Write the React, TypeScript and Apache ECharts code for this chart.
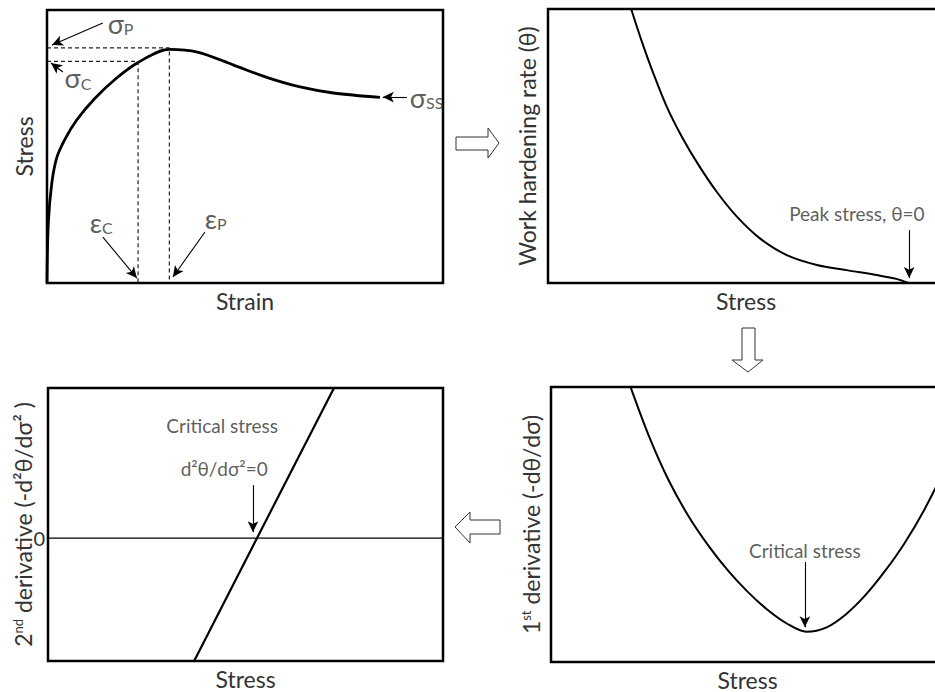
import React, { useEffect, useRef } from "react";
import * as echarts from "echarts";

const FONT = 'Lato, "Noto Sans", "DejaVu Sans", sans-serif';
const TXT = "#333";

// Panel 1: stress–strain curve (schematic units 0..100)
const strain = [0, 0.33, 1.2, 2.45, 4.55, 7.5, 12, 17.5, 23, 30.9, 38, 47, 55.5, 63.9, 72.3, 84.1];
const stress = [0, 21.9, 36.4, 45.8, 52.7, 59.7, 67.5, 75, 80.8, 85.6, 84.6, 79.9, 75.3, 71.8, 69.6, 68];
const peakPoint = [30.9, 86.1];
const criticalPoint = [23, 81.2];

// Panel 2: work hardening rate vs stress
const thetaStress = [21.0, 23.7, 26.6, 30.0, 33.8, 38.0, 42.6, 47.7, 53.5, 60.3, 67.9, 75.4, 83.0, 88.0, 91.0];
const theta = [100, 88.1, 76.5, 64.3, 53.4, 43.1, 33.3, 24.2, 16.3, 10.2, 6.6, 4.7, 2.9, 1.5, 0];

// Panel 4: first derivative vs stress
const d1Stress = [20.3, 25, 30, 35, 40, 45, 50, 55, 60, 65, 70, 75, 80, 85, 90, 95, 100];
const d1 = [99.8, 81.9, 65.9, 53.0, 42.4, 33.3, 25.6, 19.1, 14.0, 11.0, 12.5, 17.3, 24.3, 33.1, 43.3, 55.4, 69.5];

// Panel 3: second derivative vs stress
const d2Stress = [37, 52.9, 72.4];
const d2 = [-45, 0, 55];
const zeroLineX = [0, 100];

// Annotation anchors (data units of each panel)
const p1Labels = [
  { text: "{g|σ}{s|P}", at: [15.2, 95.2] },
  { text: "{g|σ}{s|C}", at: [4.3, 75.1] },
  { text: "{g|σ}{s|SS}", at: [91.5, 68.1] },
  { text: "{g|ε}{s|C}", at: [10.7, 22.3] },
  { text: "{g|ε}{s|P}", at: [39.7, 23.8] },
];
const p1Arrows = [
  [[14.1, 95.2], [1.26, 87.2]],
  [[4.0, 77.3], [1.0, 80.6]],
  [[90.9, 68.1], [84.8, 68.1]],
  [[14.1, 16.8], [22.7, 1.8]],
  [[39.9, 18.7], [31.8, 2.2]],
];
const p2Labels = [{ text: "Peak stress, θ=0", at: [78, 25.5] }];
const p2Arrows = [[[91.2, 19.3], [91.2, 1.8]]];
const p3Labels = [
  { text: "Critical stress", at: [44.1, 41.4] },
  { text: "d²θ/dσ²=0", at: [44.6, 25.6] },
];
const p3Arrows = [[[51.9, 19.4], [51.9, 2.2]]];
const p4Labels = [{ text: "Critical stress", at: [64.6, 40.7] }];
const p4Arrows = [[[64.6, 36.4], [64.6, 12.6]]];

const pairs = (xs: number[], ys: number[]) => xs.map((x, i) => [x, ys[i]]);

const arrowMark = (arrows: number[][][]) => ({
  silent: true,
  symbol: ["none", "arrow"],
  symbolSize: [8, 11],
  label: { show: false },
  lineStyle: { color: "#000", width: 1.1, type: "solid" },
  emphasis: { disabled: true },
  data: arrows.map(([a, b]) => [{ coord: a }, { coord: b }]),
});

const labelSeries = (idx: number, labels: { text: string; at: number[] }[], pos: string) => ({
  type: "scatter",
  xAxisIndex: idx,
  yAxisIndex: idx,
  silent: true,
  symbolSize: 1,
  itemStyle: { color: "rgba(0,0,0,0)" },
  data: labels.map((l) => ({ value: l.at, name: l.text })),
  label: {
    show: true,
    position: pos,
    distance: 0,
    formatter: (p: any) => p.name,
    color: TXT,
    fontFamily: FONT,
    fontSize: 19,
    rich: {
      g: { fontSize: 27, color: TXT, fontFamily: FONT },
      s: { fontSize: 16, color: TXT, fontFamily: FONT, verticalAlign: "bottom" },
    },
  },
});

const nameStyle = {
  fontSize: 23,
  color: TXT,
  fontFamily: FONT,
  rich: {
    sup: { fontSize: 13, color: TXT, fontFamily: FONT, verticalAlign: "top" },
  },
};

const gridBox = (left: number, top: number, width: number, height: number) => ({
  left,
  top,
  width,
  height,
  show: true,
  borderColor: "#000",
  borderWidth: 2.5,
  backgroundColor: "transparent",
  containLabel: false,
  outerBoundsMode: "none",
});

const xAx = (idx: number, name: string) => ({
  type: "value",
  gridIndex: idx,
  min: 0,
  max: 100,
  name,
  nameLocation: "middle",
  nameGap: 6,
  nameMoveOverlap: false,
  nameTextStyle: { ...nameStyle, verticalAlign: "top" },
  axisLine: { show: false },
  axisTick: { show: false },
  axisLabel: { show: false },
  splitLine: { show: false },
});

const yAx = (idx: number, name: string, gap: number, min = 0, max = 100) => ({
  type: "value",
  gridIndex: idx,
  min,
  max,
  name,
  nameLocation: "middle",
  nameGap: gap,
  nameMoveOverlap: false,
  nameTextStyle: nameStyle,
  axisLine: { show: false },
  axisTick: { show: false },
  axisLabel: { show: false },
  splitLine: { show: false },
});

const curve = (idx: number, xs: number[], ys: number[], width: number, arrows: number[][][]) => ({
  type: "line",
  xAxisIndex: idx,
  yAxisIndex: idx,
  data: pairs(xs, ys),
  smooth: 0.33,
  showSymbol: false,
  silent: true,
  lineStyle: { color: "#000", width },
  markLine: arrowMark(arrows),
});

export default function App() {
  const ref = useRef<HTMLDivElement>(null);
  useEffect(() => {
    if (!ref.current) return;
    const chart = echarts.init(ref.current, null, { renderer: "svg" });
    const y2 = yAx(2, "2{sup|nd} derivative (-d²θ/dσ² )", 14, -45, 55) as any;
    y2.interval = 5;
    y2.axisLabel = {
      show: true,
      margin: 3,
      fontSize: 20,
      color: TXT,
      fontFamily: FONT,
      formatter: (v: number) => (v === 0 ? "0" : ""),
    };
    const option: any = {
      animation: false,
      backgroundColor: "#fff",
      grid: [gridBox(47, 10, 396, 273), gridBox(548, 9, 396, 274), gridBox(48, 388, 395, 273), gridBox(551, 387, 393, 275)],
      xAxis: [xAx(0, "Strain"), xAx(1, "Stress"), xAx(2, "Stress"), xAx(3, "Stress")],
      yAxis: [
        yAx(0, "Stress", 12),
        yAx(1, "Work hardening rate (θ)", 10),
        y2,
        yAx(3, "1{sup|st} derivative (-dθ/dσ)", 9),
      ],
      series: [
        curve(0, strain, stress, 2.8, p1Arrows),
        {
          type: "line",
          xAxisIndex: 0,
          yAxisIndex: 0,
          data: [[0, peakPoint[1]], peakPoint, [peakPoint[0], 0]],
          showSymbol: false,
          silent: true,
          lineStyle: { color: "#222", width: 1.2, type: [4, 3] },
        },
        {
          type: "line",
          xAxisIndex: 0,
          yAxisIndex: 0,
          data: [[0, criticalPoint[1]], criticalPoint, [criticalPoint[0], 0]],
          showSymbol: false,
          silent: true,
          lineStyle: { color: "#222", width: 1.2, type: [4, 3] },
        },
        labelSeries(0, p1Labels, "right"),
        curve(1, thetaStress, theta, 2, p2Arrows),
        labelSeries(1, p2Labels, "inside"),
        {
          type: "line",
          xAxisIndex: 2,
          yAxisIndex: 2,
          data: pairs(zeroLineX, [0, 0]),
          showSymbol: false,
          silent: true,
          lineStyle: { color: "#000", width: 1.4 },
        },
        {
          type: "line",
          xAxisIndex: 2,
          yAxisIndex: 2,
          data: pairs(d2Stress, d2),
          showSymbol: false,
          silent: true,
          lineStyle: { color: "#000", width: 2.2 },
          markLine: arrowMark(p3Arrows),
        },
        labelSeries(2, p3Labels, "inside"),
        curve(3, d1Stress, d1, 2, p4Arrows),
        labelSeries(3, p4Labels, "inside"),
      ],
      graphic: [
        {
          type: "polygon",
          silent: true,
          shape: { points: [[456, 137], [488, 137], [488, 128], [499, 143], [488, 158], [488, 150], [456, 150]] },
          style: { fill: "#fff", stroke: "#333", lineWidth: 1 },
        },
        {
          type: "polygon",
          silent: true,
          shape: { points: [[742, 328], [755, 328], [755, 360], [763, 360], [748, 372], [732, 360], [742, 360]] },
          style: { fill: "#fff", stroke: "#333", lineWidth: 1 },
        },
        {
          type: "polygon",
          silent: true,
          shape: { points: [[455, 527], [470, 512], [470, 520], [500, 520], [500, 534], [470, 534], [470, 543]] },
          style: { fill: "#fff", stroke: "#333", lineWidth: 1 },
        },
      ],
    };
    chart.setOption(option);
    return () => chart.dispose();
  }, []);
  return (
    <div
      ref={ref}
      style={{ position: "fixed", left: 0, top: 0, width: 935, height: 692, background: "#fff" }}
    />
  );
}
